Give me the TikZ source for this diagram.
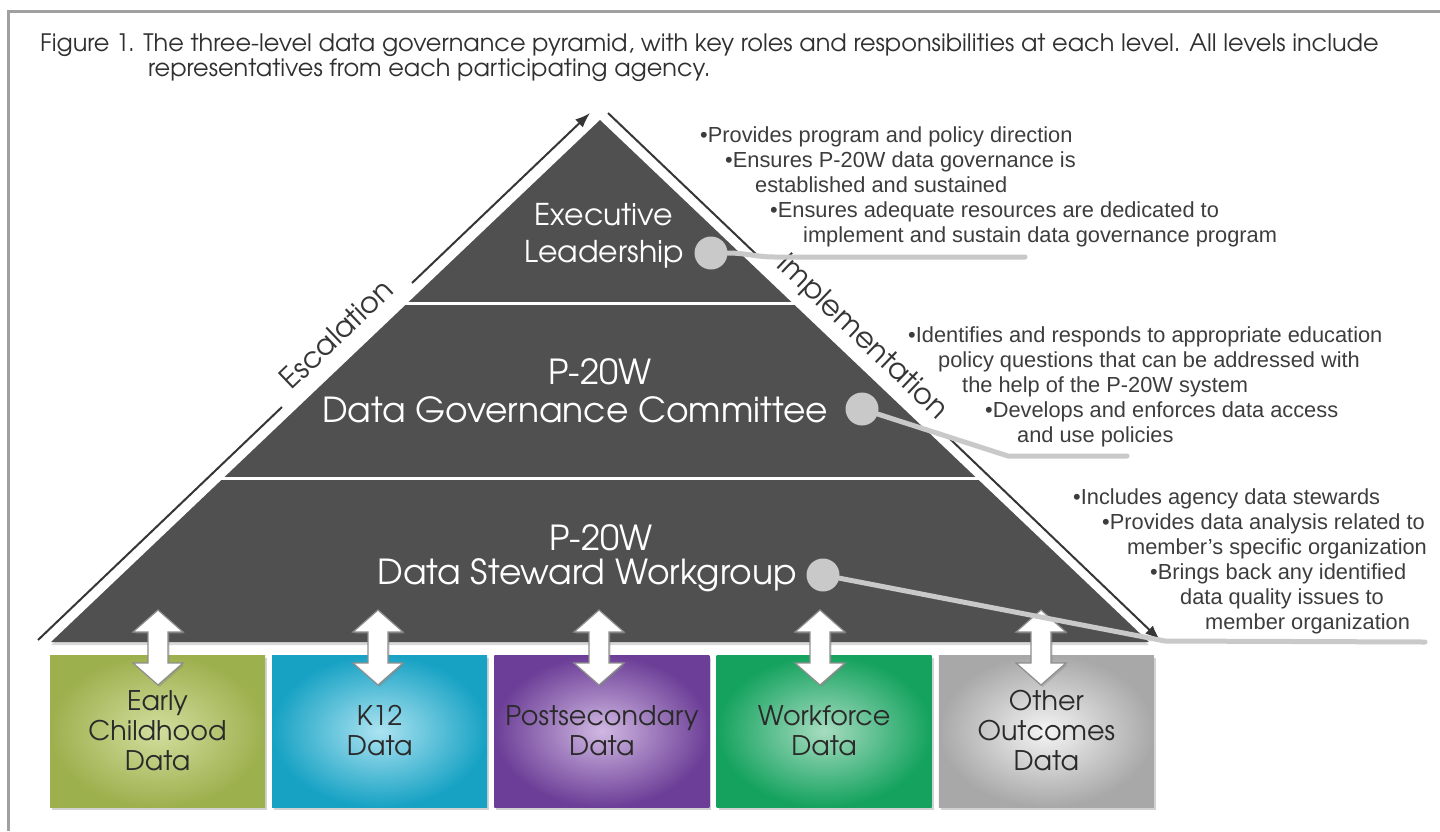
\documentclass[tikz,border=0pt]{standalone}
\usepackage{fontspec}
\setmainfont{Liberation Sans}
\newfontfamily\gothic{TeX Gyre Adventor}
\usetikzlibrary{arrows.meta,shadows}

\definecolor{pyramidgray}{HTML}{505050}
\definecolor{leadergray}{HTML}{C9C9C9}
\definecolor{bodytext}{HTML}{3D3D3D}
\definecolor{captiontext}{HTML}{303030}
\definecolor{framegray}{HTML}{A0A0A0}
\definecolor{flowgray}{HTML}{363636}
\definecolor{labeltext}{HTML}{2A2A2A}
\definecolor{arrowedge}{HTML}{8E8E8E}
\definecolor{ecIn}{HTML}{D2DE9E}\definecolor{ecOut}{HTML}{9DB04E}
\definecolor{kIn}{HTML}{ACE3F1}\definecolor{kOut}{HTML}{17A2C4}
\definecolor{psIn}{HTML}{D0B8E2}\definecolor{psOut}{HTML}{6C3E97}
\definecolor{wfIn}{HTML}{A6DCC0}\definecolor{wfOut}{HTML}{14A25E}
\definecolor{ooIn}{HTML}{F4F4F4}\definecolor{ooOut}{HTML}{A8A8A8}

\begin{document}
\begin{tikzpicture}[x=1pt,y=-1pt,
  caption/.style={anchor=base west, inner sep=0pt, text=captiontext,
    font=\gothic\fontsize{24}{27}\selectfont},
  toplabel/.style={inner sep=0pt, text=white, font=\gothic\fontsize{30}{37}\selectfont},
  tierlabel/.style={inner sep=0pt, text=white, font=\gothic\fontsize{34.5}{38}\selectfont},
  bullet/.style={anchor=base west, inner sep=0pt, text=bodytext,
    font=\fontsize{21.8}{25}\selectfont},
  dot/.style={circle, fill=leadergray, minimum size=33pt, inner sep=0pt},
  leader/.style={draw=leadergray, line width=5pt, line join=round, line cap=round},
  flow/.style={draw=flowgray, line width=2pt},
  flowtip/.style={-{Latex[length=15pt,width=11pt]}},
  sidelabel/.style={anchor=base, inner sep=0pt, text=flowgray,
    font=\gothic\fontsize{29}{32}\selectfont},
  databox/.style={minimum width=215pt, minimum height=152pt, inner sep=0pt,
    align=center, text=labeltext, font=\gothic\fontsize{27}{30}\selectfont,
    shading=radial, inner color=#1In, outer color=#1Out,
    drop shadow={shadow xshift=2pt, shadow yshift=-3pt, opacity=.35}},
  dualarrow/.style={fill=white, draw=arrowedge, line width=1.2pt, line join=miter,
    drop shadow={shadow xshift=1.5pt, shadow yshift=-2pt, opacity=.35}},
]
\useasboundingbox (0,0) rectangle (1440,831);
\fill[white] (0,0) rectangle (1440,831);

% outer frame
\draw[framegray, line width=3pt] (8,831) -- (8,11) -- (1440,11);

% caption
\node[caption] (cap1) at (40,51) {Figure 1. The three-level data governance pyramid, with key roles and responsibilities at each level. All levels include};
\node[caption] (cap2) at (148,76) {representatives from each participating agency.};

% data boxes
\node[databox=ec] (early) at (157.5,731) {Early\\Childhood\\Data};
\node[databox=k]  (k12)   at (379.7,731) {K12\\Data};
\node[databox=ps] (post)  at (601.9,731) {Postsecondary\\Data};
\node[databox=wf] (work)  at (824.1,731) {Workforce\\Data};
\node[databox=oo] (other) at (1046.3,731) {Other\\Outcomes\\Data};

% pyramid
\coordinate (apex) at (600,120);
\coordinate (baseL) at (51,642);
\coordinate (baseR) at (1149,642);
\fill[pyramidgray, drop shadow={shadow xshift=0pt, shadow yshift=-3pt, opacity=.3}]
  (apex) -- (baseR) -- (baseL) -- cycle;
\draw[white, line width=3pt] (404,303) -- (796,303);
\draw[white, line width=3pt] (220,478) -- (980,478);

% tier labels
\node[toplabel, align=center] (exec) at (604,236) {Executive\\Leadership};
\node[tierlabel] (dgc1) at (600,372) {P-20W};
\node[tierlabel] (dgc2) at (575,410) {Data Governance Committee};
\node[tierlabel] (dsw1) at (601,538) {P-20W};
\node[tierlabel] (dsw2) at (587,575) {Data Steward Workgroup};

% two-way arrows between workgroup and agency data
\foreach \cx in {158,378,599,820,1041}{
  \path[dualarrow] (\cx,610) -- (\cx+25,632) -- (\cx+10,632) -- (\cx+10,663)
    -- (\cx+25,663) -- (\cx,685) -- (\cx-25,663) -- (\cx-10,663)
    -- (\cx-10,632) -- (\cx-25,632) -- cycle;
}

% escalation (up the left side)
\coordinate (escA) at (38,640);
\coordinate (escB) at (282,407);
\coordinate (escC) at (412,283);
\coordinate (escD) at (590,113);
\draw[flow] (escA) -- (escB);
\draw[flow, flowtip] (escC) -- (escD);
\node[sidelabel, rotate=43.67] (esc) at (343.6,341.4) {Escalation};

% implementation (down the right side)
\coordinate (impA) at (608,113);
\coordinate (impB) at (758,256);
\coordinate (impC) at (948,437);
\coordinate (impD) at (1160,640);
\draw[flow] (impA) -- (impB);
\draw[flow, flowtip] (impC) -- (impD);
\node[sidelabel, rotate=-43.67] (imp) at (856.4,343.4) {Implementation};

% callout dots and leaders
\node[dot] (dotE) at (711,253) {};
\node[dot] (dotC) at (862,409) {};
\node[dot] (dotW) at (823,575) {};
\coordinate (legE1) at (775,257);
\coordinate (legE2) at (1025,257);
\coordinate (legC1) at (1008,456);
\coordinate (legC2) at (1127,456);
\coordinate (legW1) at (1165,641);
\coordinate (legW2) at (1425,642);
\draw[leader] (dotE.east) to[out=0,in=180] (legE1) -- (legE2);
\draw[leader] (dotC) -- (legC1) -- (legC2);
\draw[leader] (dotW) -- (legW1) -- (legW2);

% responsibilities: executive leadership
\node[bullet] (e1) at (700,142) {•Provides program and policy direction};
\node[bullet] (e2) at (725,167) {•Ensures P-20W data governance is};
\node[bullet] (e3) at (755,192) {established and sustained};
\node[bullet] (e4) at (770,217) {•Ensures adequate resources are dedicated to};
\node[bullet] (e5) at (803,242) {implement and sustain data governance program};

% responsibilities: data governance committee
\node[bullet] (c1) at (908,342) {•Identifies and responds to appropriate education};
\node[bullet] (c2) at (938,367) {policy questions that can be addressed with};
\node[bullet] (c3) at (962,392) {the help of the P-20W system};
\node[bullet] (c4) at (985,417) {•Develops and enforces data access};
\node[bullet] (c5) at (1017,442) {and use policies};

% responsibilities: data steward workgroup
\node[bullet] (w1) at (1073,504) {•Includes agency data stewards};
\node[bullet] (w2) at (1102,529) {•Provides data analysis related to};
\node[bullet] (w3) at (1127,554) {member’s specific organization};
\node[bullet] (w4) at (1150,579) {•Brings back any identified};
\node[bullet] (w5) at (1180,604) {data quality issues to};
\node[bullet] (w6) at (1205,629) {member organization};
\end{tikzpicture}
\end{document}
